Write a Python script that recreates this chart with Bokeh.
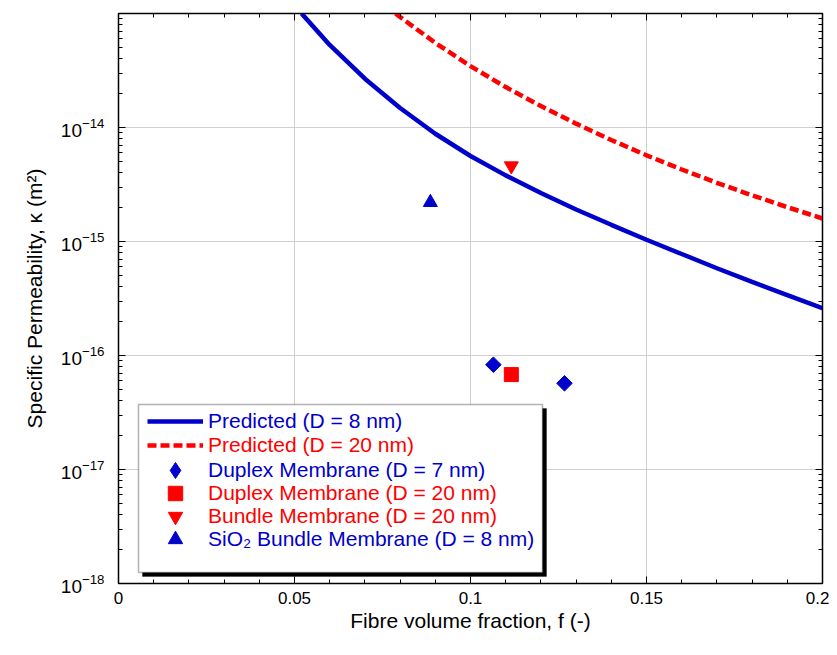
import math
from bokeh.plotting import figure
from bokeh.models import (Range1d, LogAxis, LinearAxis, SingleIntervalTicker, LogTicker,
                          NumeralTickFormatter, Legend, LegendItem, BoxAnnotation)
from bokeh.embed import file_html
from bokeh.resources import INLINE

# ---------------- data ----------------
f_pred8 = [0.052, 0.06, 0.07, 0.08, 0.09, 0.10, 0.11, 0.12, 0.13, 0.14, 0.15, 0.16, 0.17, 0.18, 0.19, 0.20]
k_pred8 = [1.0e-13, 5.30e-14, 2.68e-14, 1.48e-14, 8.81e-15, 5.62e-15, 3.80e-15, 2.66e-15, 1.905e-15,
           1.40e-15, 1.035e-15, 7.76e-16, 5.82e-16, 4.42e-16, 3.39e-16, 2.60e-16]

f_pred20 = [0.0787, 0.08, 0.09, 0.10, 0.11, 0.12, 0.13, 0.14, 0.15, 0.16, 0.17, 0.18, 0.19, 0.20]
k_pred20 = [1.0e-13, 9.30e-14, 5.52e-14, 3.45e-14, 2.26e-14, 1.54e-14, 1.08e-14, 7.76e-15, 5.70e-15,
            4.28e-15, 3.27e-15, 2.54e-15, 2.00e-15, 1.59e-15]

f_duplex7 = [0.1065, 0.1267]
k_duplex7 = [8.3e-17, 5.7e-17]

f_duplex20 = [0.1116]
k_duplex20 = [6.8e-17]

f_bundle20 = [0.1116]
k_bundle20 = [4.6e-15]

f_sio2 = [0.0886]
k_sio2 = [2.2e-15]

labels = ["Predicted (D = 8 nm)", "Predicted (D = 20 nm)", "Duplex Membrane (D = 7 nm)",
          "Duplex Membrane (D = 20 nm)", "Bundle Membrane (D = 20 nm)", "SiO\u2082 Bundle Membrane (D = 8 nm)"]

BLUE = "#0000cc"
RED = "#ff0000"
FONT = "Liberation Sans"

# frame placement (pixels)
FL, FT, FW, FH = 118, 13, 704, 570

# ---------------- figure ----------------
p = figure(width=FL + FW + 7, height=FT + FH + 64, output_backend="svg", toolbar_location=None,
           x_range=Range1d(0, 0.2), y_range=Range1d(1e-18, 9.99e-14), y_axis_type="log",
           min_border_left=FL, min_border_right=7, min_border_top=FT, min_border_bottom=64)
p.outline_line_color = "black"
p.outline_line_width = 1.5

xt = SingleIntervalTicker(interval=0.05, num_minor_ticks=5)
yt = LogTicker(num_minor_ticks=10)

xa = p.xaxis[0]
xa.ticker = xt
xa.formatter = NumeralTickFormatter(format="0.[00]")
xa.axis_label = "Fibre volume fraction, f (-)"
ya = p.yaxis[0]
ya.ticker = yt
ya.axis_label = "Specific Permeability, \u03ba (m\u00b2)"

for ax in (xa, ya):
    ax.major_tick_in = 7
    ax.major_tick_out = 0
    ax.minor_tick_in = 4
    ax.minor_tick_out = 0
    ax.axis_line_color = "black"
    ax.major_tick_line_color = "black"
    ax.minor_tick_line_color = "black"
    ax.major_label_text_font = FONT
    ax.major_label_text_color = "black"
    ax.axis_label_text_font = FONT
    ax.axis_label_text_font_size = "21px"
    ax.axis_label_text_font_style = "normal"
    ax.axis_label_text_color = "black"
xa.major_label_text_font_size = "17px"
ya.major_label_text_font_size = "19px"
xa.major_label_standoff = 8
xa.axis_label_standoff = 2
ya.major_label_standoff = 14
ya.axis_label_standoff = 12

top = LinearAxis(ticker=xt, major_label_text_font_size="1px", major_label_text_alpha=0,
                 major_label_standoff=0,
                 major_tick_in=7, major_tick_out=0, minor_tick_in=4, minor_tick_out=0)
right = LogAxis(ticker=yt, major_label_text_font_size="1px", major_label_text_alpha=0,
                major_label_standoff=0,
                major_tick_in=7, major_tick_out=0, minor_tick_in=4, minor_tick_out=0)
p.add_layout(top, "above")
p.add_layout(right, "right")

p.xgrid.grid_line_color = "#d0d0d0"
p.ygrid.grid_line_color = "#d0d0d0"
p.xgrid.ticker = xt
p.ygrid.ticker = yt

# ---------------- data marks ----------------
r1 = p.line(f_pred8, k_pred8, line_color=BLUE, line_width=4.5)
r2 = p.line(f_pred20, k_pred20, line_color=RED, line_width=4.5, line_dash="9 4")
p.scatter(f_duplex7, k_duplex7, marker="square", angle=math.pi / 4, size=11, color=BLUE)
# hidden twin used only for the legend swatch (legend glyphs ignore the rotation angle)
r3 = p.scatter(f_duplex7, k_duplex7, marker="diamond", size=17, color=BLUE, visible=False)
r4 = p.scatter(f_duplex20, k_duplex20, marker="square", size=14, color=RED)
r5 = p.scatter(f_bundle20, k_bundle20, marker="inverted_triangle", size=14, color=RED)
r6 = p.scatter(f_sio2, k_sio2, marker="triangle", size=14, color=BLUE)

# ---------------- legend (box + shadow + per-colour entries) ----------------
def fx(px):
    return (px - FL) / FW * 0.2

def ky(py):
    return 10 ** (-13 - (py - FT) / (FH / 5))

shadow = BoxAnnotation(left=fx(142), right=fx(546), top=ky(408), bottom=ky(576),
                       fill_color="black", fill_alpha=1, line_color="black", line_width=1)
box = BoxAnnotation(left=fx(138), right=fx(542), top=ky(404), bottom=ky(572),
                    fill_color="white", fill_alpha=1, line_color="black", line_width=1.5)
p.add_layout(shadow)
p.add_layout(box)

rows_y = [423, 447, 470, 493, 516, 539]
colors = [BLUE, RED, BLUE, RED, RED, BLUE]
rends = [r1, r2, r3, r4, r5, r6]
gh = [20, 20, 40, 36, 36, 36]
for lab, col, rend, cy, h in zip(labels, colors, rends, rows_y, gh):
    lg = Legend(items=[LegendItem(label=lab, renderers=[rend])],
                location=(147 - FL, (FT + FH) - (cy + h / 2)),
                padding=0, margin=0, spacing=0,
                glyph_width=56, glyph_height=h, label_height=h, label_standoff=5,
                border_line_alpha=0, background_fill_alpha=0,
                inactive_fill_alpha=0,
                label_text_font=FONT, label_text_font_size="21px", label_text_color=col)
    p.add_layout(lg, "center")

open("out.html", "w").write(file_html(p, INLINE))
